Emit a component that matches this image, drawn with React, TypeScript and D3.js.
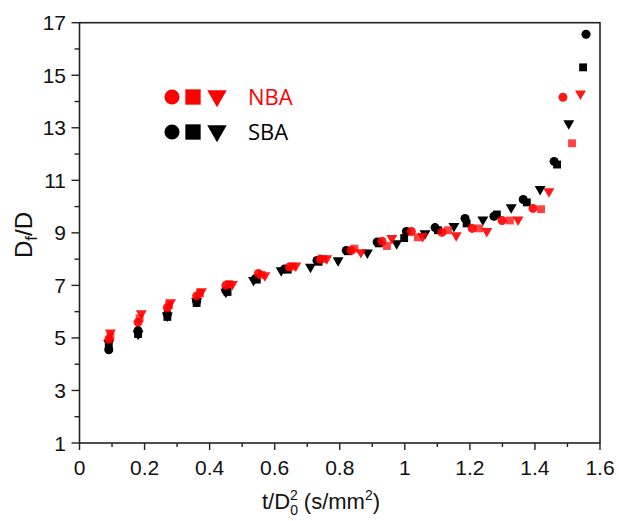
import React from "react";
import * as d3 from "d3";

// x: t/D0^2, y: Df/D
const nbaCircleX = [0.09, 0.18, 0.27, 0.36, 0.45, 0.55, 0.645, 0.74, 0.835, 0.93, 1.02, 1.114, 1.207, 1.299, 1.394, 1.486];
const nbaCircleY = [4.95, 5.6, 6.15, 6.6, 7.0, 7.45, 7.7, 8.0, 8.33, 8.68, 9.05, 9.02, 9.17, 9.47, 9.93, 14.16];
const nbaSquareX = [0.095, 0.185, 0.275, 0.37, 0.46, 0.56, 0.655, 0.75, 0.845, 0.945, 1.04, 1.133, 1.228, 1.323, 1.419, 1.514];
const nbaSquareY = [5.05, 5.75, 6.25, 6.7, 7.05, 7.4, 7.72, 8.0, 8.4, 8.5, 8.83, 9.1, 9.17, 9.47, 9.9, 12.41];
const nbaTriX = [0.095, 0.19, 0.28, 0.375, 0.47, 0.57, 0.665, 0.76, 0.865, 0.96, 1.055, 1.158, 1.252, 1.348, 1.443, 1.54];
const nbaTriY = [5.2, 5.93, 6.35, 6.77, 7.05, 7.38, 7.75, 8.03, 8.26, 8.8, 8.87, 8.9, 9.06, 9.5, 10.58, 14.3];

const sbaCircleX = [0.09, 0.18, 0.27, 0.36, 0.45, 0.54, 0.63, 0.73, 0.82, 0.915, 1.005, 1.093, 1.185, 1.274, 1.364, 1.459, 1.557];
const sbaCircleY = [4.55, 5.28, 5.9, 6.4, 6.8, 7.25, 7.62, 7.95, 8.33, 8.65, 9.05, 9.2, 9.55, 9.63, 10.27, 11.72, 16.56];
const sbaSquareX = [0.09, 0.18, 0.27, 0.36, 0.455, 0.545, 0.64, 0.735, 0.825, 0.92, 0.998, 1.102, 1.19, 1.283, 1.375, 1.468, 1.548];
const sbaSquareY = [4.7, 5.15, 5.8, 6.33, 6.75, 7.22, 7.6, 7.9, 8.3, 8.6, 8.8, 9.1, 9.36, 9.7, 10.16, 11.6, 15.3];
const sbaTriX = [0.09, 0.18, 0.27, 0.36, 0.45, 0.535, 0.62, 0.71, 0.795, 0.885, 0.975, 1.062, 1.151, 1.24, 1.327, 1.416, 1.504];
const sbaTriY = [4.8, 5.15, 5.85, 6.4, 6.75, 7.2, 7.57, 7.7, 7.95, 8.25, 8.6, 8.98, 9.25, 9.5, 9.97, 10.66, 13.17];

const xTicks = [0, 0.2, 0.4, 0.6, 0.8, 1, 1.2, 1.4, 1.6];
const yTicks = [1, 3, 5, 7, 9, 11, 13, 15, 17];

const W = 619;
const H = 521;
const left = 79.5;
const right = 600;
const top = 22.7;
const bottom = 443;

const App: React.FC = () => {
  const x = d3.scaleLinear().domain([0, 1.6]).range([left, right]);
  const y = d3.scaleLinear().domain([1, 17]).range([bottom, top]);

  const circle = d3.symbol().type(d3.symbolCircle).size(64)();
  const square = d3.symbol().type(d3.symbolSquare).size(62)();
  const tri = d3.symbol().type(d3.symbolTriangle).size(52)();
  const circleL = d3.symbol().type(d3.symbolCircle).size(180)();
  const squareL = d3.symbol().type(d3.symbolSquare).size(235)();
  const triL = d3.symbol().type(d3.symbolTriangle).size(165)();

  const series = [
    { xs: sbaSquareX, ys: sbaSquareY, path: square, fill: "#000", rot: 0, op: 1 },
    { xs: sbaCircleX, ys: sbaCircleY, path: circle, fill: "#000", rot: 0, op: 1 },
    { xs: sbaTriX, ys: sbaTriY, path: tri, fill: "#000", rot: 180, op: 1 },
    { xs: nbaSquareX, ys: nbaSquareY, path: square, fill: "#f22", rot: 0, op: 0.85 },
    { xs: nbaCircleX, ys: nbaCircleY, path: circle, fill: "#f00", rot: 0, op: 0.9 },
    { xs: nbaTriX, ys: nbaTriY, path: tri, fill: "#f00", rot: 180, op: 0.9 },
  ];

  const xMinor = d3.range(0.1, 1.6, 0.2);
  const yMinor = d3.range(2, 17, 2);
  const axisColor = "#222";
  const font = "Arial, 'Liberation Sans', sans-serif";

  return (
    <svg width={W} height={H} style={{ position: "absolute", left: 0, top: 0 }}>
      <rect width={W} height={H} fill="#fff" />
      {/* frame */}
      <rect x={left} y={top} width={right - left} height={bottom - top} fill="none" stroke={axisColor} strokeWidth={1.6} />
      {/* x ticks */}
      {xTicks.map((t) => (
        <g key={"xt" + t}>
          <line x1={x(t)} x2={x(t)} y1={bottom} y2={bottom + 7} stroke={axisColor} strokeWidth={1.4} />
          <text x={x(t)} y={475} textAnchor="middle" fontSize={21} fontFamily={font} fill="#111">
            {t}
          </text>
        </g>
      ))}
      {xMinor.map((t) => (
        <line key={"xm" + t} x1={x(t)} x2={x(t)} y1={bottom} y2={bottom + 4} stroke={axisColor} strokeWidth={1.4} />
      ))}
      {/* y ticks */}
      {yTicks.map((t) => (
        <g key={"yt" + t}>
          <line x1={left - 8} x2={left} y1={y(t)} y2={y(t)} stroke={axisColor} strokeWidth={1.4} />
          <text x={66} y={y(t) + 7.5} textAnchor="end" fontSize={21} fontFamily={font} fill="#111">
            {t}
          </text>
        </g>
      ))}
      {yMinor.map((t) => (
        <line key={"ym" + t} x1={left - 5} x2={left} y1={y(t)} y2={y(t)} stroke={axisColor} strokeWidth={1.4} />
      ))}
      {/* points */}
      {series.map((s, si) =>
        s.xs.map((xv, i) => (
          <path
            key={si + "-" + i}
            d={s.path || ""}
            transform={`translate(${x(xv)},${y(s.ys[i])}) rotate(${s.rot})`}
            fill={s.fill}
            fillOpacity={s.op}
          />
        ))
      )}
      {/* legend */}
      <path d={circleL || ""} transform="translate(172,97)" fill="#f00" />
      <path d={squareL || ""} transform="translate(193,97)" fill="#f00" />
      <path d={triL || ""} transform="translate(217,96) rotate(180)" fill="#f00" />
      <text x={248} y={105} fontSize={22} fontFamily="'Open Sans', sans-serif" fill="#f00">NBA</text>
      <path d={circleL || ""} transform="translate(172,132)" fill="#000" />
      <path d={squareL || ""} transform="translate(193,132)" fill="#000" />
      <path d={triL || ""} transform="translate(217,131) rotate(180)" fill="#000" />
      <text x={248} y={140} fontSize={22} fontFamily="'Open Sans', sans-serif" fill="#000">SBA</text>
      {/* axis titles */}
      <text transform="translate(32,235) rotate(-90)" textAnchor="middle" fontSize={24} fontFamily={font} fill="#111">
        D<tspan fontSize={17} dy={5}>f</tspan>
        <tspan dy={-5}>/D</tspan>
      </text>
      <text x={262} y={509} fontSize={22} fontFamily={font} fill="#111">
        t/D
        <tspan fontSize={14} dy={6}>0</tspan>
        <tspan fontSize={14} dx={-8} dy={-15}>2</tspan>
        <tspan dy={9}> (s/mm</tspan>
        <tspan fontSize={14} dy={-9}>2</tspan>
        <tspan dy={9}>)</tspan>
      </text>
    </svg>
  );
};

export default App;
